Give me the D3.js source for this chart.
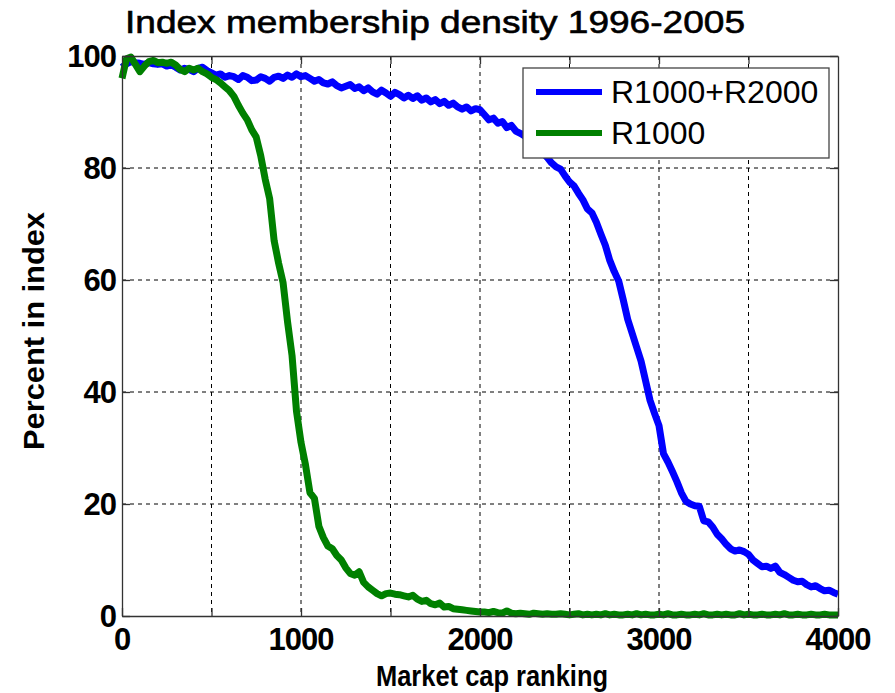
<!DOCTYPE html>
<html>
<head>
<meta charset="utf-8">
<script src="https://cdn.jsdelivr.net/npm/d3@7"></script>
<style>
  body { margin: 0; background: #fff; }
  text { font-family: "Liberation Sans", Arial, sans-serif; fill: #000; }
</style>
</head>
<body>
<svg id="canvas"></svg>
<script>
// ranks sampled every 25
const ranks = d3.range(0, 4001, 25);

// R1000+R2000 (percent)
const allIdx = [
  98, 98.6, 99, 98.8, 98.7, 98.5, 98.8, 98.6, 98.5, 98.6, 98.2, 98.4, 98, 97.5, 97.8, 97.6,
  97.2, 97.8, 98, 97.4, 97, 96.6, 96.8, 96.2, 96.5, 96.3, 95.8, 96.5, 96.2, 95.6, 95.7, 96.3,
  96.0, 95.5, 96.2, 96.4, 96.0, 96.6, 96.2, 96.8, 96.3, 96.5, 96.0, 95.5, 95.8, 95.2, 95.0, 95.4,
  94.7, 94.3, 94.6, 94.9, 94.2, 94.5, 93.8, 94.3, 93.6, 93.2, 93.9, 93.4, 92.8, 93.5, 93.1, 92.5,
  93.0, 92.4, 92.9, 92.1, 92.5, 91.8, 92.2, 91.5, 91.9, 91.2, 91.6, 90.9, 90.5, 90.9, 90.2, 90.6,
  90.4, 89.5, 88.6, 88.9, 88.0, 88.3, 87.2, 87.6, 86.6, 86.2, 85.7, 85.0, 84.3, 83.5, 82.8, 81.9,
  80.9, 80.2, 79.8, 78.6, 77.5, 76.8, 75.5, 74.3, 72.7, 72.0, 70.3, 68.2, 66.2, 63.5, 61.5, 59.8,
  56.5, 53.0, 50.5, 48.0, 45.5, 42.0, 38.5, 36.2, 34.0, 29.0, 27.5, 25.8, 24.0, 22.0, 20.5, 20.0,
  19.7, 19.6, 17.0, 16.8, 15.9, 14.6, 13.8, 12.8, 12.0, 11.6, 11.8, 11.5, 11.0, 10.0, 9.4, 8.8,
  8.9, 8.5, 8.9, 7.8, 7.4, 6.9, 6.4, 6.1, 6.2, 5.6, 5.2, 5.4, 4.9, 4.5, 4.6, 4.2,
  3.9
];

// R1000 (percent)
const r1000 = [
  96, 99.5, 99.8, 98.5, 97.2, 98.2, 99.0, 99.2, 98.8, 98.9, 98.7, 98.9, 98.4, 97.6, 97.2, 97.8,
  97.5, 97.8, 97.2, 96.8, 96.2, 95.8, 95.2, 94.5, 93.8, 92.8, 91.2, 89.8, 88.6, 86.8, 85.5, 82.2,
  78.0, 74.5, 67.0, 63.0, 59.5, 52.5, 46.5, 36.5, 31.0, 27.0, 22.0, 21.0, 16.0, 14.0, 12.5, 12.0,
  10.8, 10.0, 8.6, 7.6, 7.3, 7.9, 6.0, 5.2, 4.6, 4.0, 3.6, 4.0, 4.1, 3.9, 3.8, 3.6,
  3.4, 3.7, 3.0, 2.6, 2.8, 2.2, 2.0, 2.3, 1.6, 1.7, 1.3, 1.2, 1.1, 1.0, 0.9, 0.8,
  0.7, 0.7, 0.6, 0.8, 0.6, 0.5, 0.9, 0.5, 0.4, 0.5, 0.4, 0.3, 0.5, 0.4, 0.3, 0.4,
  0.3, 0.3, 0.4, 0.3, 0.2, 0.3, 0.4, 0.2, 0.3, 0.2, 0.3, 0.2, 0.4, 0.2, 0.3, 0.2,
  0.2, 0.3, 0.2, 0.4, 0.2, 0.3, 0.2, 0.2, 0.3, 0.2, 0.4, 0.2, 0.2, 0.3, 0.2, 0.2,
  0.3, 0.2, 0.4, 0.2, 0.2, 0.3, 0.2, 0.3, 0.2, 0.2, 0.4, 0.2, 0.3, 0.2, 0.2, 0.3,
  0.2, 0.2, 0.3, 0.2, 0.4, 0.2, 0.2, 0.3, 0.2, 0.2, 0.3, 0.2, 0.2, 0.3, 0.2, 0.2,
  0.2
];

const xTicks = [0, 1000, 2000, 3000, 4000];
const xGrid = [500, 1000, 1500, 2000, 2500, 3000, 3500];
const yTicks = [0, 20, 40, 60, 80, 100];
const seriesNames = ["R1000+R2000", "R1000"];
const colors = ["#0000ff", "#008000"];

const width = 895, height = 693;
const svg = d3.select("#canvas").attr("width", width).attr("height", height);

// plot box
const marginLeft = 122, marginRight = 838, marginTop = 56, marginBottom = 616;

const xScale = d3.scaleLinear().domain([0, 4000]).range([marginLeft, marginRight]);
const yScale = d3.scaleLinear().domain([0, 100]).range([marginBottom, marginTop]);

// dashed grid
svg.append("g")
  .selectAll("line")
  .data(xGrid)
  .join("line")
    .attr("x1", d => xScale(d)).attr("x2", d => xScale(d))
    .attr("y1", marginTop).attr("y2", marginBottom)
    .attr("stroke", "#000").attr("stroke-width", 1).attr("stroke-dasharray", "4,4");

svg.append("g")
  .selectAll("line")
  .data(yTicks.filter(d => d > 0 && d < 100))
  .join("line")
    .attr("x1", marginLeft).attr("x2", marginRight)
    .attr("y1", d => yScale(d)).attr("y2", d => yScale(d))
    .attr("stroke", "#000").attr("stroke-width", 1).attr("stroke-dasharray", "4,4");

// lines
const line = d3.line()
  .x((d, i) => xScale(ranks[i]))
  .y(d => yScale(d));

svg.append("g")
  .selectAll("path")
  .data([allIdx, r1000])
  .join("path")
    .attr("d", d => line(d))
    .attr("fill", "none")
    .attr("stroke", (d, i) => colors[i])
    .attr("stroke-width", 7)
    .attr("stroke-linejoin", "round");

// axes frame with inward ticks (matlab style)
const axisColor = "#333";
const bottomAxis = svg.append("g")
  .attr("transform", `translate(0,${marginBottom})`)
  .call(d3.axisBottom(xScale).tickValues(xGrid.concat([0, 4000])).tickSize(-8).tickSizeOuter(0).tickFormat(""));
const topAxis = svg.append("g")
  .attr("transform", `translate(0,${marginTop})`)
  .call(d3.axisTop(xScale).tickValues(xGrid).tickSize(-8).tickSizeOuter(0).tickFormat(""));
const leftAxis = svg.append("g")
  .attr("transform", `translate(${marginLeft},0)`)
  .call(d3.axisLeft(yScale).tickValues(yTicks).tickSize(-8).tickSizeOuter(0).tickFormat(""));
const rightAxis = svg.append("g")
  .attr("transform", `translate(${marginRight},0)`)
  .call(d3.axisRight(yScale).tickValues(yTicks).tickSize(-8).tickSizeOuter(0).tickFormat(""));
[bottomAxis, topAxis, leftAxis, rightAxis].forEach(g => {
  g.selectAll("path, line").attr("stroke", axisColor).attr("stroke-width", 1.3);
});

// tick labels
svg.append("g")
  .selectAll("text")
  .data(xTicks)
  .join("text")
    .attr("x", d => xScale(d))
    .attr("y", 650)
    .attr("text-anchor", "middle")
    .attr("font-size", 31).attr("font-weight", "bold")
    .attr("letter-spacing", -1)
    .text(d => d);

svg.append("g")
  .selectAll("text")
  .data(yTicks)
  .join("text")
    .attr("x", 116)
    .attr("y", d => yScale(d) + 11)
    .attr("text-anchor", "end")
    .attr("font-size", 31).attr("font-weight", "bold")
    .attr("letter-spacing", -1)
    .text(d => d);

// title and axis labels
svg.append("text")
  .attr("x", 435).attr("y", 33)
  .attr("text-anchor", "middle")
  .attr("font-size", 31)
  .attr("stroke", "#000").attr("stroke-width", 0.6)
  .attr("textLength", 620).attr("lengthAdjust", "spacingAndGlyphs")
  .text("Index membership density 1996-2005");

svg.append("text")
  .attr("x", 492).attr("y", 686)
  .attr("text-anchor", "middle")
  .attr("font-size", 30).attr("font-weight", "bold")
  .attr("textLength", 232).attr("lengthAdjust", "spacingAndGlyphs")
  .text("Market cap ranking");

svg.append("text")
  .attr("transform", "translate(44,331) rotate(-90)")
  .attr("text-anchor", "middle")
  .attr("font-size", 30).attr("font-weight", "bold")
  .attr("textLength", 238).attr("lengthAdjust", "spacingAndGlyphs")
  .text("Percent in index");

// legend
const legend = svg.append("g");
legend.append("rect")
  .attr("x", 523).attr("y", 68).attr("width", 306).attr("height", 90)
  .attr("fill", "#fff").attr("stroke", "#444").attr("stroke-width", 1.3);

const legItem = legend.selectAll("g.item")
  .data(seriesNames)
  .join("g")
    .attr("class", "item")
    .attr("transform", (d, i) => `translate(0,${92 + i * 41})`);
legItem.append("line")
  .attr("x1", 536).attr("x2", 602)
  .attr("stroke", (d, i) => colors[i]).attr("stroke-width", 6);
legItem.append("text")
  .attr("x", 611).attr("y", 11)
  .attr("font-size", 32)
  .text(d => d);
</script>
</body>
</html>
